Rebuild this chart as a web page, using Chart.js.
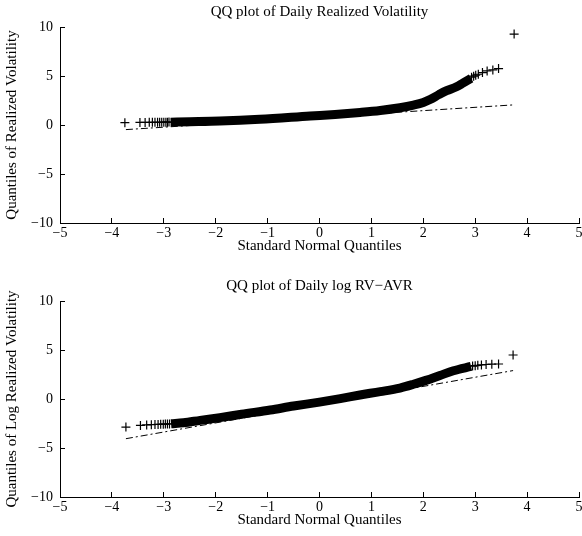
<!DOCTYPE html>
<html>
<head>
<meta charset="utf-8">
<script src="https://cdn.jsdelivr.net/npm/chart.js@4/dist/chart.umd.min.js"></script>
<style>
  html, body { margin: 0; padding: 0; background: #fff; overflow: hidden; width: 582px; height: 536px; }
  .wrap { position: absolute; left: 0; width: 590px; height: 262px; }
</style>
</head>
<body>
<div class="wrap" style="top:0"><canvas id="qq1" width="590" height="262"></canvas></div>
<div class="wrap" style="top:274px"><canvas id="qq2" width="590" height="262"></canvas></div>
<script>
// 위: 일별 실현 변동성 QQ plot
const topBandX = [-2.87, -2.5, -1.92, -1.15, -0.18, 0.3, 0.78, 1.17, 1.55, 1.81, 2.0, 2.13, 2.3, 2.45, 2.64, 2.77, 2.92];
const topBandY = [0.29, 0.33, 0.40, 0.58, 0.92, 1.08, 1.28, 1.48, 1.76, 2.03, 2.3, 2.6, 3.1, 3.5, 3.9, 4.3, 4.75];
const topTailX = [-3.75, -3.46, -3.36, -3.28, -3.22, -3.17, -3.12, -3.08, -3.04, -3.00, -2.96, -2.93, -2.90,
                  2.93, 2.97, 3.01, 3.06, 3.14, 3.23, 3.34, 3.45, 3.75];
const topTailY = [0.24, 0.26, 0.26, 0.27, 0.27, 0.27, 0.28, 0.28, 0.28, 0.29, 0.29, 0.29, 0.30,
                  4.88, 4.98, 5.08, 5.18, 5.35, 5.52, 5.62, 5.76, 9.28];
const topRefX = [-3.73, 3.73];
const topRefY = [-0.47, 2.05];

// 아래: log RV-AVR QQ plot
const botBandX = [-2.86, -2.62, -2.3, -1.92, -1.5, -0.95, -0.5, 0.0, 0.4, 0.78, 1.17, 1.55, 1.81, 2.05, 2.32, 2.58, 2.92];
const botBandY = [-2.53, -2.43, -2.18, -1.90, -1.55, -1.12, -0.72, -0.32, 0.04, 0.41, 0.75, 1.12, 1.5, 1.9, 2.4, 2.88, 3.32];
const botTailX = [-3.73, -3.45, -3.33, -3.24, -3.17, -3.11, -3.06, -3.01, -2.97, -2.93, -2.89,
                  2.95, 3.00, 3.05, 3.12, 3.21, 3.32, 3.45, 3.73];
const botTailY = [-2.86, -2.70, -2.65, -2.62, -2.60, -2.59, -2.58, -2.57, -2.56, -2.55, -2.54,
                  3.36, 3.40, 3.44, 3.48, 3.52, 3.55, 3.57, 4.49];
const botRefX = [-3.73, 3.73];
const botRefY = [-4.05, 2.9];

const xTicks = [-5, -4, -3, -2, -1, 0, 1, 2, 3, 4, 5];
const yTicks = [-10, -5, 0, 5, 10];

const FAMILY = "'Liberation Serif', 'DejaVu Serif', serif";
const TICK_FONT = { family: FAMILY, size: 14 };
const TITLE_FONT = { family: FAMILY, size: 15 };

function pts(xs, ys) {
    return xs.map((x, i) => ({ x: x, y: ys[i] }));
}

function minus(v) {
    return String(v).replace('-', '\u2212');
}

// 제목을 plot 영역 가운데에 그림
const plotTitle = {
    id: 'plotTitle',
    afterDraw(chart, args, opts) {
        const ctx = chart.ctx;
        const a = chart.chartArea;
        ctx.save();
        ctx.font = TITLE_FONT.size + 'px ' + FAMILY;
        ctx.fillStyle = '#000';
        ctx.textAlign = 'center';
        ctx.textBaseline = 'middle';
        ctx.fillText(opts.text, (a.left + a.right) / 2, 12);
        ctx.restore();
    }
};

function makeQQ(id, title, yTitle, bandX, bandY, tailX, tailY, refX, refY) {
    const ctx = document.getElementById(id).getContext('2d');
    return new Chart(ctx, {
        type: 'scatter',
        data: {
            datasets: [
                {
                    // 기준선 (dash-dot)
                    data: pts(refX, refY),
                    showLine: true,
                    borderColor: '#000',
                    borderWidth: 1,
                    borderDash: [7, 3, 2, 3],
                    pointRadius: 0
                },
                {
                    // 점들이 빽빽한 부분
                    data: pts(bandX, bandY),
                    showLine: true,
                    borderColor: '#000',
                    borderWidth: 9,
                    borderCapStyle: 'butt',
                    cubicInterpolationMode: 'monotone',
                    pointRadius: 0
                },
                {
                    // 꼬리 부분 + 표시
                    data: pts(tailX, tailY),
                    showLine: false,
                    pointStyle: 'cross',
                    pointRadius: 4.5,
                    pointBorderWidth: 1.2,
                    borderColor: '#000',
                    backgroundColor: '#000'
                }
            ]
        },
        options: {
            responsive: false,
            animation: false,
            layout: { padding: { top: 27, right: 11, left: 0, bottom: 0 } },
            plugins: {
                legend: { display: false },
                tooltip: { enabled: false },
                plotTitle: { text: title }
            },
            scales: {
                x: {
                    type: 'linear',
                    min: -5,
                    max: 5,
                    afterBuildTicks: (s) => { s.ticks = xTicks.map(v => ({ value: v })); },
                    afterFit: (s) => { s.height = 39; },
                    grid: { display: true, drawOnChartArea: false, drawTicks: true, tickLength: -5, color: '#000' },
                    border: { display: true, color: '#000', width: 1 },
                    ticks: { color: '#000', font: TICK_FONT, padding: 7, maxRotation: 0, callback: (v) => minus(v) },
                    title: { display: true, text: 'Standard Normal Quantiles', color: '#000', font: TITLE_FONT, padding: { top: 0, bottom: 7 } }
                },
                y: {
                    type: 'linear',
                    min: -10,
                    max: 10,
                    afterBuildTicks: (s) => { s.ticks = yTicks.map(v => ({ value: v })); },
                    afterFit: (s) => { s.width = 60; },
                    grid: { display: true, drawOnChartArea: false, drawTicks: true, tickLength: -5, color: '#000' },
                    border: { display: true, color: '#000', width: 1 },
                    ticks: { color: '#000', font: TICK_FONT, padding: 12, callback: (v) => minus(v) },
                    title: { display: true, text: yTitle, color: '#000', font: TITLE_FONT, padding: { top: 3, bottom: 0 } }
                }
            }
        },
        plugins: [plotTitle]
    });
}

makeQQ('qq1', 'QQ plot of Daily Realized Volatility', 'Quantiles of Realized Volatility',
       topBandX, topBandY, topTailX, topTailY, topRefX, topRefY);
makeQQ('qq2', 'QQ plot of Daily log RV\u2212AVR', 'Quantiles of Log Realized Volatility',
       botBandX, botBandY, botTailX, botTailY, botRefX, botRefY);
</script>
</body>
</html>
